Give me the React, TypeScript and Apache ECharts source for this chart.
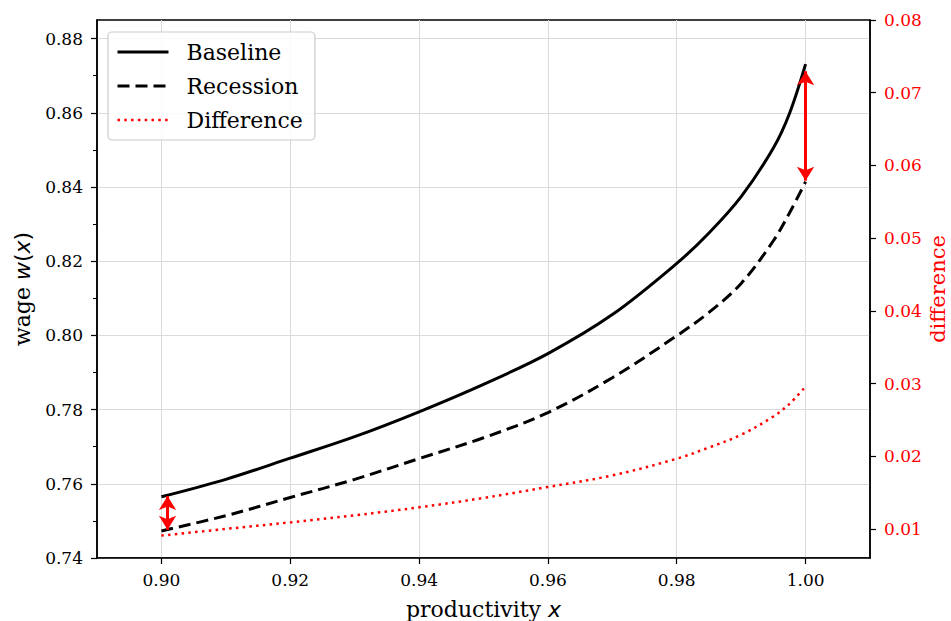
import React, { useEffect, useRef } from "react";
import * as echarts from "echarts";

const xValues = [0.90, 0.91, 0.92, 0.93, 0.94, 0.95, 0.96, 0.97, 0.98, 0.985, 0.99, 0.995, 0.9975, 1.00];
const baseline = [0.7565, 0.7612, 0.7669, 0.7727, 0.7794, 0.7868, 0.7951, 0.8056, 0.8194, 0.8276, 0.8374, 0.8505, 0.8598, 0.8731];
const recession = [0.7473, 0.7514, 0.7563, 0.7612, 0.7668, 0.7724, 0.7792, 0.7886, 0.7999, 0.8062, 0.8140, 0.8255, 0.8330, 0.8414];
const difference = [0.00908, 0.0100, 0.0109, 0.01187, 0.01297, 0.01426, 0.01577, 0.01736, 0.01966, 0.0212, 0.02295, 0.02547, 0.0272, 0.02959];

const xTickLabels = [0.90, 0.92, 0.94, 0.96, 0.98, 1.00];
const yLeftTickLabels = [0.74, 0.76, 0.78, 0.80, 0.82, 0.84, 0.86, 0.88];
const yLeftMinorTicks = [0.75, 0.77, 0.79, 0.81, 0.83, 0.85, 0.87];
const yRightTickLabels = [0.01, 0.02, 0.03, 0.04, 0.05, 0.06, 0.07, 0.08];

const arrowLeft = { x: 0.90095, from: 0.7567, to: 0.7476 };
const arrowRight = { x: 1.0, from: 0.8712, to: 0.8417 };

const SERIF = "DejaVu Serif";
const SANS = "DejaVu Sans";

export default function App() {
  const ref = useRef<HTMLDivElement>(null);
  useEffect(() => {
    if (!ref.current) return;
    const chart = echarts.init(ref.current, null, { renderer: "svg" });
    const pairs = (ys: number[]) => xValues.map((x, i) => [x, ys[i]]);
    const isIn = (v: number, arr: number[]) => arr.some((a) => Math.abs(a - v) < 1e-6);
    const arrowLine = (a: { x: number; from: number; to: number }) => [
      { coord: [a.x, a.from] },
      { coord: [a.x, a.to] },
    ];
    chart.setOption({
      animation: false,
      textStyle: { fontFamily: SERIF },
      grid: {
        left: 97,
        right: 81,
        top: 20,
        bottom: 63,
        outerBoundsMode: "none",
        containLabel: false,
        show: true,
        borderColor: "#000",
        borderWidth: 1.5,
        backgroundColor: "transparent",
      },
      legend: {
        orient: "vertical",
        left: 108,
        top: 32,
        padding: [9, 12, 9, 8],
        itemWidth: 51,
        itemHeight: 12,
        itemGap: 12,
        backgroundColor: "rgba(255,255,255,0.85)",
        borderColor: "#cccccc",
        borderWidth: 1.2,
        borderRadius: 4,
        itemStyle: { opacity: 0 },
        textStyle: {
          fontFamily: SERIF,
          fontSize: 22,
          color: "#000",
          lineHeight: 22,
          padding: [0, 0, 0, 13],
        },
        data: [
          { name: "Baseline", lineStyle: { width: 3 } },
          { name: "Recession", lineStyle: { width: 3 } },
          { name: "Difference", lineStyle: { width: 2.5 } },
        ],
      },
      xAxis: {
        type: "value",
        min: 0.89,
        max: 1.01,
        interval: 0.01,
        name: "{a|productivity }{b|x}",
        nameLocation: "middle",
        nameGap: 40,
        nameMoveOverlap: false,
        nameTextStyle: {
          rich: {
            a: { fontFamily: SERIF, fontSize: 22, color: "#000" },
            b: { fontFamily: SANS, fontStyle: "italic", fontSize: 22, color: "#000" },
          },
        },
        axisLine: { show: true, onZero: false, lineStyle: { color: "#000", width: 1.5 } },
        axisTick: { show: true, length: 6, customValues: xTickLabels, lineStyle: { color: "#000", width: 1.2 } },
        axisLabel: {
          customValues: xTickLabels,
          margin: 13,
          fontFamily: SERIF,
          fontSize: 17,
          color: "#000",
          formatter: (v: number) => (isIn(v, xTickLabels) ? v.toFixed(2) : ""),
        },
        splitLine: { show: true, lineStyle: { color: "#dadada", width: 1 } },
      },
      yAxis: [
        {
          type: "value",
          position: "left",
          min: 0.74,
          max: 0.885,
          interval: 0.01,
          name: "{a|wage }{b|w}{c|(}{b|x}{c|)}",
          nameLocation: "middle",
          nameGap: 64,
          nameMoveOverlap: false,
          nameTextStyle: {
            rich: {
              a: { fontFamily: SERIF, fontSize: 22, color: "#000" },
              b: { fontFamily: SANS, fontStyle: "italic", fontSize: 22, color: "#000" },
              c: { fontFamily: SANS, fontSize: 22, color: "#000" },
            },
          },
          axisLine: { show: true, lineStyle: { color: "#000", width: 1.5 } },
          axisTick: { show: true, length: 6, customValues: yLeftTickLabels, lineStyle: { color: "#000", width: 1.2 } },
          axisLabel: {
            customValues: yLeftTickLabels,
            margin: 14,
            fontFamily: SERIF,
            fontSize: 17,
            color: "#000",
            formatter: (v: number) => (isIn(v, yLeftTickLabels) ? v.toFixed(2) : ""),
          },
          splitLine: { show: true, lineStyle: { color: "#dadada", width: 1 } },
        },
        {
          type: "value",
          position: "right",
          min: 0.006,
          max: 0.08,
          name: "difference",
          nameLocation: "middle",
          nameGap: 57,
          nameMoveOverlap: false,
          nameTextStyle: { fontFamily: SERIF, fontSize: 21, color: "#ff0000", lineHeight: 21 },
          axisLine: { show: true, lineStyle: { color: "#000", width: 1.5 } },
          axisTick: { show: true, length: 6, customValues: yRightTickLabels, lineStyle: { color: "#000", width: 1.2 } },
          axisLabel: {
            customValues: yRightTickLabels,
            margin: 14,
            fontFamily: SERIF,
            fontSize: 17,
            color: "#ff0000",
            formatter: (v: number) => v.toFixed(2),
          },
          splitLine: { show: false },
        },
        {
          type: "value",
          position: "left",
          min: 0.74,
          max: 0.885,
          axisLine: { show: false },
          axisTick: { show: true, length: 4, customValues: yLeftMinorTicks, lineStyle: { color: "#000", width: 1 } },
          axisLabel: { show: false },
          splitLine: { show: false },
        },
      ],
      series: [
        {
          name: "Baseline",
          type: "line",
          data: pairs(baseline),
          smooth: 0.35,
          showSymbol: false,
          symbol: "none",
          lineStyle: { color: "#000", width: 3 },
          itemStyle: { color: "#000" },
          z: 3,
          markLine: {
            silent: true,
            symbol: ["arrow", "arrow"],
            symbolSize: [13, 14],
            label: { show: false },
            lineStyle: { color: "#ff0000", width: 3, type: "solid" },
            itemStyle: { color: "#ff0000" },
            data: [arrowLine(arrowLeft), arrowLine(arrowRight)],
          },
        },
        {
          name: "Recession",
          type: "line",
          data: pairs(recession),
          smooth: 0.35,
          showSymbol: false,
          symbol: "none",
          lineStyle: { color: "#000", width: 3, type: [12, 6] },
          itemStyle: { color: "#000" },
          z: 3,
        },
        {
          name: "Difference",
          type: "line",
          yAxisIndex: 1,
          data: pairs(difference),
          smooth: 0.35,
          showSymbol: false,
          symbol: "none",
          lineStyle: { color: "#ff0000", width: 2.5, type: [2.5, 4.3] },
          itemStyle: { color: "#ff0000" },
          z: 3,
        },
      ],
    });
    return () => chart.dispose();
  }, []);
  return <div ref={ref} style={{ width: 951, height: 621, position: "absolute", left: 0, top: 0 }} />;
}
